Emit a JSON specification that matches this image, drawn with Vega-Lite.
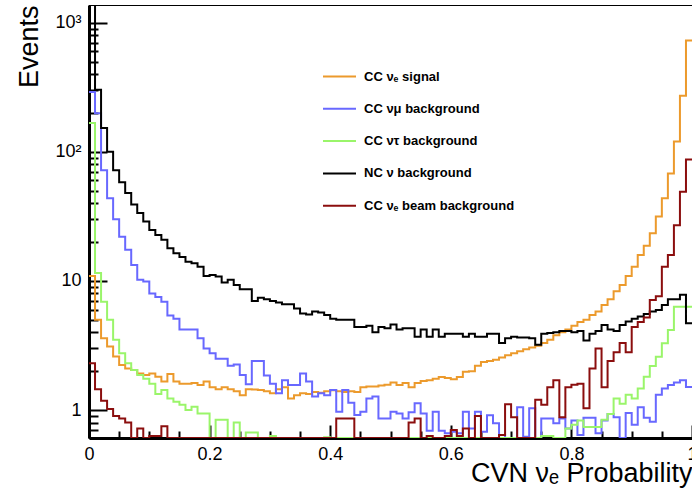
{
  "$schema": "https://vega.github.io/schema/vega-lite/v6.json",
  "width": 603,
  "height": 433,
  "autosize": {"type": "none"},
  "padding": {"left": 89, "top": 5, "right": 0, "bottom": 55},
  "background": "white",
  "config": {
    "view": {"stroke": "black", "strokeWidth": 1},
    "font": "Liberation Sans"
  },
  "data": {"values": [
    {"p":0.00,"sig":10.9,"numu":290,"nutau":167,"nc":2000,"beam":2.3},
    {"p":0.01,"sig":5.0,"numu":199,"nutau":11.5,"nc":302,"beam":1.45},
    {"p":0.02,"sig":3.6,"numu":72,"nutau":6.9,"nc":153,"beam":1.18},
    {"p":0.03,"sig":3.1,"numu":43.6,"nutau":5.0,"nc":100,"beam":1.02},
    {"p":0.04,"sig":2.6,"numu":30,"nutau":3.5,"nc":72,"beam":0.9},
    {"p":0.05,"sig":2.23,"numu":22,"nutau":2.75,"nc":58,"beam":0.86},
    {"p":0.06,"sig":2.1,"numu":17.4,"nutau":2.3,"nc":48,"beam":0.8},
    {"p":0.07,"sig":2.04,"numu":13.3,"nutau":2.04,"nc":39,"beam":0.01},
    {"p":0.08,"sig":1.92,"numu":10.2,"nutau":1.87,"nc":33.5,"beam":0.72},
    {"p":0.09,"sig":1.87,"numu":9.9,"nutau":1.75,"nc":28.8,"beam":0.01},
    {"p":0.10,"sig":1.92,"numu":8.0,"nutau":1.6,"nc":24.8,"beam":0.63},
    {"p":0.11,"sig":1.81,"numu":7.5,"nutau":1.33,"nc":22.7,"beam":0.63},
    {"p":0.12,"sig":1.66,"numu":6.9,"nutau":1.43,"nc":20.8,"beam":0.75},
    {"p":0.13,"sig":1.9,"numu":5.4,"nutau":1.23,"nc":17.9,"beam":0.01},
    {"p":0.14,"sig":1.66,"numu":5.1,"nutau":1.16,"nc":16.4,"beam":0.01},
    {"p":0.15,"sig":1.6,"numu":4.2,"nutau":1.1,"nc":15.3,"beam":0.01},
    {"p":0.16,"sig":1.6,"numu":4.2,"nutau":1.0,"nc":14.1,"beam":0.01},
    {"p":0.17,"sig":1.62,"numu":4.2,"nutau":1.06,"nc":13.7,"beam":0.01},
    {"p":0.18,"sig":1.56,"numu":3.6,"nutau":0.94,"nc":12.9,"beam":0.01},
    {"p":0.19,"sig":1.66,"numu":3.0,"nutau":0.94,"nc":10.9,"beam":0.01},
    {"p":0.20,"sig":1.5,"numu":2.75,"nutau":0.01,"nc":11.1,"beam":0.01},
    {"p":0.21,"sig":1.45,"numu":2.5,"nutau":0.84,"nc":10.8,"beam":0.01},
    {"p":0.22,"sig":1.5,"numu":2.5,"nutau":0.84,"nc":9.7,"beam":0.01},
    {"p":0.23,"sig":1.45,"numu":2.2,"nutau":0.01,"nc":10.2,"beam":0.01},
    {"p":0.24,"sig":1.4,"numu":2.25,"nutau":0.8,"nc":9.3,"beam":0.01},
    {"p":0.25,"sig":1.3,"numu":1.87,"nutau":0.01,"nc":8.6,"beam":0.01},
    {"p":0.26,"sig":1.45,"numu":1.58,"nutau":0.67,"nc":8.6,"beam":0.01},
    {"p":0.27,"sig":1.44,"numu":2.4,"nutau":0.67,"nc":7.0,"beam":0.01},
    {"p":0.28,"sig":1.43,"numu":2.4,"nutau":0.01,"nc":7.4,"beam":0.01},
    {"p":0.29,"sig":1.4,"numu":1.85,"nutau":0.01,"nc":7.2,"beam":0.01},
    {"p":0.30,"sig":1.35,"numu":1.6,"nutau":0.63,"nc":7.0,"beam":0.01},
    {"p":0.31,"sig":1.45,"numu":1.35,"nutau":0.01,"nc":6.8,"beam":0.01},
    {"p":0.32,"sig":1.5,"numu":1.7,"nutau":0.01,"nc":6.6,"beam":0.01},
    {"p":0.33,"sig":1.23,"numu":1.56,"nutau":0.01,"nc":6.6,"beam":0.01},
    {"p":0.34,"sig":1.3,"numu":1.56,"nutau":0.01,"nc":6.1,"beam":0.01},
    {"p":0.35,"sig":1.35,"numu":1.92,"nutau":0.01,"nc":5.6,"beam":0.01},
    {"p":0.36,"sig":1.33,"numu":1.66,"nutau":0.01,"nc":5.5,"beam":0.01},
    {"p":0.37,"sig":1.38,"numu":1.27,"nutau":0.01,"nc":5.8,"beam":0.01},
    {"p":0.38,"sig":1.36,"numu":1.35,"nutau":0.01,"nc":5.7,"beam":0.01},
    {"p":0.39,"sig":1.4,"numu":1.3,"nutau":0.615,"nc":5.45,"beam":0.01},
    {"p":0.40,"sig":1.42,"numu":1.43,"nutau":0.01,"nc":5.1,"beam":0.01},
    {"p":0.41,"sig":1.4,"numu":0.97,"nutau":0.01,"nc":5.0,"beam":0.86},
    {"p":0.42,"sig":1.38,"numu":1.43,"nutau":0.01,"nc":5.0,"beam":0.86},
    {"p":0.43,"sig":1.4,"numu":1.14,"nutau":0.01,"nc":5.0,"beam":0.86},
    {"p":0.44,"sig":1.38,"numu":0.915,"nutau":0.01,"nc":4.4,"beam":0.01},
    {"p":0.45,"sig":1.5,"numu":0.97,"nutau":0.01,"nc":4.4,"beam":0.01},
    {"p":0.46,"sig":1.52,"numu":1.23,"nutau":0.01,"nc":4.5,"beam":0.01},
    {"p":0.47,"sig":1.52,"numu":1.27,"nutau":0.01,"nc":4.0,"beam":0.01},
    {"p":0.48,"sig":1.55,"numu":0.86,"nutau":0.01,"nc":4.4,"beam":0.01},
    {"p":0.49,"sig":1.57,"numu":0.86,"nutau":0.01,"nc":4.3,"beam":0.01},
    {"p":0.50,"sig":1.63,"numu":0.97,"nutau":0.01,"nc":4.6,"beam":0.01},
    {"p":0.51,"sig":1.56,"numu":0.94,"nutau":0.01,"nc":4.2,"beam":0.01},
    {"p":0.52,"sig":1.62,"numu":0.86,"nutau":0.01,"nc":4.3,"beam":0.01},
    {"p":0.53,"sig":1.5,"numu":0.96,"nutau":0.01,"nc":4.3,"beam":0.8},
    {"p":0.54,"sig":1.62,"numu":1.13,"nutau":0.01,"nc":3.7,"beam":0.86},
    {"p":0.55,"sig":1.68,"numu":0.94,"nutau":0.01,"nc":4.2,"beam":0.01},
    {"p":0.56,"sig":1.7,"numu":0.69,"nutau":0.01,"nc":3.7,"beam":0.63},
    {"p":0.57,"sig":1.75,"numu":0.97,"nutau":0.01,"nc":4.2,"beam":0.01},
    {"p":0.58,"sig":1.8,"numu":0.69,"nutau":0.01,"nc":3.7,"beam":0.01},
    {"p":0.59,"sig":1.77,"numu":0.66,"nutau":0.01,"nc":3.9,"beam":0.63},
    {"p":0.60,"sig":1.73,"numu":0.68,"nutau":0.01,"nc":3.9,"beam":0.7},
    {"p":0.61,"sig":1.8,"numu":0.66,"nutau":0.01,"nc":3.9,"beam":0.63},
    {"p":0.62,"sig":1.98,"numu":0.97,"nutau":0.01,"nc":3.7,"beam":0.72},
    {"p":0.63,"sig":2.0,"numu":0.72,"nutau":0.01,"nc":3.9,"beam":0.01},
    {"p":0.64,"sig":2.2,"numu":0.97,"nutau":0.01,"nc":3.7,"beam":0.9},
    {"p":0.65,"sig":2.35,"numu":0.68,"nutau":0.01,"nc":3.7,"beam":0.01},
    {"p":0.66,"sig":2.4,"numu":0.91,"nutau":0.01,"nc":3.9,"beam":0.01},
    {"p":0.67,"sig":2.45,"numu":0.79,"nutau":0.01,"nc":3.9,"beam":0.01},
    {"p":0.68,"sig":2.55,"numu":0.64,"nutau":0.01,"nc":3.3,"beam":0.64},
    {"p":0.69,"sig":2.65,"numu":0.01,"nutau":0.01,"nc":3.6,"beam":1.11},
    {"p":0.70,"sig":2.75,"numu":0.01,"nutau":0.01,"nc":3.7,"beam":0.88},
    {"p":0.71,"sig":2.85,"numu":1.05,"nutau":0.01,"nc":3.65,"beam":0.01},
    {"p":0.72,"sig":2.95,"numu":0.62,"nutau":0.01,"nc":3.65,"beam":0.01},
    {"p":0.73,"sig":3.05,"numu":1.03,"nutau":0.01,"nc":3.6,"beam":0.01},
    {"p":0.74,"sig":3.15,"numu":0.01,"nutau":0.01,"nc":3.2,"beam":1.2},
    {"p":0.75,"sig":3.3,"numu":0.86,"nutau":0.63,"nc":3.9,"beam":1.1},
    {"p":0.76,"sig":3.5,"numu":0.86,"nutau":0.63,"nc":3.95,"beam":1.5},
    {"p":0.77,"sig":3.8,"numu":0.79,"nutau":0.01,"nc":4.0,"beam":1.7},
    {"p":0.78,"sig":4.0,"numu":0.86,"nutau":0.01,"nc":4.1,"beam":0.88},
    {"p":0.79,"sig":4.2,"numu":0.72,"nutau":0.72,"nc":4.1,"beam":1.5},
    {"p":0.80,"sig":4.5,"numu":0.83,"nutau":0.77,"nc":4.0,"beam":1.57},
    {"p":0.81,"sig":4.8,"numu":0.64,"nutau":0.83,"nc":4.1,"beam":1.6},
    {"p":0.82,"sig":5.0,"numu":0.87,"nutau":0.74,"nc":3.45,"beam":1.03},
    {"p":0.83,"sig":5.45,"numu":0.87,"nutau":0.74,"nc":3.9,"beam":2.1},
    {"p":0.84,"sig":5.8,"numu":0.66,"nutau":0.74,"nc":4.1,"beam":3.0},
    {"p":0.85,"sig":6.5,"numu":0.83,"nutau":0.84,"nc":4.55,"beam":1.5},
    {"p":0.86,"sig":7.2,"numu":0.93,"nutau":0.93,"nc":4.2,"beam":2.4},
    {"p":0.87,"sig":8.3,"numu":0.88,"nutau":1.23,"nc":4.1,"beam":2.8},
    {"p":0.88,"sig":9.3,"numu":0.01,"nutau":1.12,"nc":4.55,"beam":3.3},
    {"p":0.89,"sig":10.9,"numu":0.95,"nutau":1.31,"nc":4.85,"beam":2.8},
    {"p":0.90,"sig":12.9,"numu":0.77,"nutau":1.23,"nc":5.1,"beam":4.4},
    {"p":0.91,"sig":15.9,"numu":1.05,"nutau":1.47,"nc":5.3,"beam":4.8},
    {"p":0.92,"sig":18.7,"numu":0.87,"nutau":1.81,"nc":5.55,"beam":5.2},
    {"p":0.93,"sig":23.4,"numu":0.81,"nutau":2.19,"nc":5.8,"beam":7.1},
    {"p":0.94,"sig":31.5,"numu":1.31,"nutau":2.59,"nc":5.95,"beam":7.6},
    {"p":0.95,"sig":43.7,"numu":1.47,"nutau":3.29,"nc":6.5,"beam":12.9},
    {"p":0.96,"sig":68,"numu":1.56,"nutau":4.17,"nc":7.2,"beam":15.9},
    {"p":0.97,"sig":120,"numu":1.63,"nutau":6.3,"nc":7.2,"beam":27},
    {"p":0.98,"sig":272,"numu":1.7,"nutau":6.3,"nc":7.8,"beam":49},
    {"p":0.99,"sig":729,"numu":1.51,"nutau":6.3,"nc":4.7,"beam":87},
    {"p":1.00,"sig":729,"numu":1.51,"nutau":6.3,"nc":4.7,"beam":87}
  ]},
  "transform": [{"fold": ["sig", "numu", "nutau", "nc", "beam"], "as": ["s", "n"]}],
  "mark": {"type": "line", "interpolate": "step-after", "strokeWidth": 2, "clip": true},
  "encoding": {
    "x": {
      "field": "p", "type": "quantitative",
      "scale": {"domain": [0, 1], "nice": false, "zero": false},
      "axis": {
        "values": [0,0.05,0.1,0.15,0.2,0.25,0.3,0.35,0.4,0.45,0.5,0.55,0.6,0.65,0.7,0.75,0.8,0.85,0.9,0.95,1],
        "labelExpr": "abs(datum.value*5-round(datum.value*5))<0.001 ? (datum.value==0 ? '0' : datum.value>0.999 ? '1' : format(datum.value, '.1f')) : ''",
        "tickSize": {"condition": {"test": "abs(datum.value*5-round(datum.value*5))<0.001", "value": -13}, "value": -7},
        "tickWidth": 2, "tickColor": "black",
        "domainWidth": 3, "domainColor": "black",
        "labelFont": "Liberation Sans", "labelFontSize": 18, "labelColor": "black",
        "labelPadding": 20, "labelFlush": false, "labelOverlap": false,
        "grid": false,
        "title": "CVN νₑ Probability",
        "titleFont": "Liberation Sans", "titleFontSize": 27, "titleFontWeight": "normal", "titleColor": "black",
        "titleAnchor": "end", "titleAlign": "right", "titleBaseline": "alphabetic",
        "titleX": 603, "titleY": 43
      }
    },
    "y": {
      "field": "n", "type": "quantitative",
      "scale": {"type": "log", "domain": [0.607, 1371], "nice": false, "clamp": true},
      "axis": {
        "values": [0.7,0.8,0.9,1,2,3,4,5,6,7,8,9,10,20,30,40,50,60,70,80,90,100,200,300,400,500,600,700,800,900,1000],
        "labelExpr": "datum.value==1 ? '1' : datum.value==10 ? '10' : datum.value==100 ? '10²' : datum.value==1000 ? '10³' : ''",
        "tickSize": {"condition": {"test": "datum.value==1 || datum.value==10 || datum.value==100 || datum.value==1000", "value": -18}, "value": -9},
        "tickWidth": 2, "tickColor": "black",
        "domainWidth": 3, "domainColor": "black",
        "labelFont": "Liberation Sans", "labelFontSize": 18, "labelColor": "black",
        "labelPadding": 26, "labelOverlap": false,
        "grid": false,
        "title": "Events",
        "titleFont": "Liberation Sans", "titleFontSize": 27, "titleFontWeight": "normal", "titleColor": "black",
        "titleAngle": -90, "titleAlign": "right", "titleBaseline": "middle",
        "titleX": -60, "titleY": 0
      }
    },
    "color": {
      "field": "s", "type": "nominal",
      "scale": {
        "domain": ["sig", "numu", "nutau", "nc", "beam"],
        "range": ["#ec9a2c", "#6868ff", "#9af56a", "#000000", "#8b0e0e"]
      },
      "legend": {
        "orient": "none", "legendX": 233, "legendY": 54,
        "title": null, "padding": 0,
        "symbolType": "stroke", "symbolSize": 1089, "symbolStrokeWidth": 2,
        "labelFont": "Liberation Sans", "labelFontWeight": "bold", "labelFontSize": 13, "labelColor": "black",
        "labelOffset": 7, "rowPadding": 7.3, "labelLimit": 300,
        "labelExpr": "datum.label=='sig' ? 'CC νₑ signal' : datum.label=='numu' ? 'CC νμ background' : datum.label=='nutau' ? 'CC ντ background' : datum.label=='nc' ? 'NC ν background' : 'CC νₑ beam background'"
      }
    }
  }
}
